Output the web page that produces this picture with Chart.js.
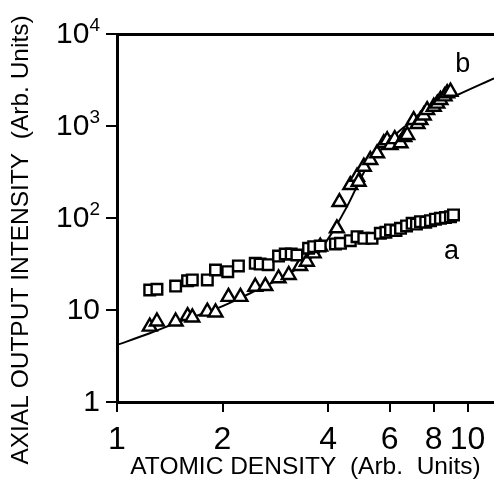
<!DOCTYPE html>
<html>
<head>
<meta charset="utf-8">
<script src="https://cdn.jsdelivr.net/npm/chart.js@4.4.1/dist/chart.umd.min.js"></script>
<style>
  html, body { margin: 0; padding: 0; background: #fff; }
  #wrap { width: 494px; height: 488px; }
</style>
</head>
<body>
<div id="wrap"><canvas id="chart" width="494" height="488"></canvas></div>
<script>
'use strict';

// ── Axis ticks ────────────────────────────────────────────────────────
const xTicks = [1, 2, 4, 6, 8, 10];
const yTicks = [1, 10, 100, 1000, 10000];
const yTickBase = ['1', '10', '10', '10', '10'];
const yTickExp = ['', '', '2', '3', '4'];

// ── Series a (squares) ────────────────────────────────────────────────
const aX = [1.24, 1.30, 1.47, 1.59, 1.64, 1.81, 1.91, 2.07, 2.22, 2.48, 2.56, 2.70,
            2.89, 3.02, 3.14, 3.26, 3.52, 3.64, 3.80, 4.20, 4.34, 4.63, 4.84, 5.06,
            5.34, 5.64, 5.85, 6.03, 6.25, 6.44, 6.70, 6.95, 7.15, 7.34, 7.60, 7.84,
            8.10, 8.37, 8.65, 8.94, 9.12];
const aY = [16.5, 16.8, 18.2, 20.8, 21.2, 21.2, 27.2, 26.1, 30.1, 32.2, 31.6, 31.1,
            38.6, 40.6, 40.6, 39.6, 46.9, 48.8, 49.6, 52.2, 53.1, 56.7, 62.6, 60.1,
            60.1, 68.2, 70, 74.1, 73, 77.3, 82, 87.6, 86, 91.2, 90, 93.5,
            97, 99.3, 101, 103, 108];

// ── Series b (triangles) ──────────────────────────────────────────────
const bX = [1.24, 1.30, 1.47, 1.59, 1.64, 1.81, 1.91, 2.08, 2.25, 2.48, 2.65, 2.89,
            3.09, 3.33, 3.48, 3.64, 3.80, 4.24, 4.31, 4.63, 4.84, 4.89, 5.06, 5.28,
            5.52, 5.77, 5.90, 6.03, 6.20, 6.44, 6.60, 6.73, 7.02, 7.20, 7.34, 7.50,
            7.67, 8.01, 8.20, 8.37, 8.60, 8.75, 8.94];
const bY = [6.6, 7.5, 7.5, 8.6, 8.3, 9.6, 9.4, 13.9, 13.9, 17.9, 18.2, 22.1,
            24.0, 30.1, 33.5, 41.3, 48.8, 77.3, 149, 228, 281, 248, 361, 427,
            505, 649, 700, 621, 720, 649, 760, 798, 1160, 1050, 1160, 1300,
            1490, 1620, 1750, 1920, 2100, 2270, 2360];

// ── Fitted curve through b ────────────────────────────────────────────
const fitX = [1.0, 1.24, 1.55, 1.93, 2.40, 2.99, 3.48, 3.89, 4.15, 4.53, 5.17,
              5.77, 6.44, 7.34, 8.37, 9.35, 11.9];
const fitY = [4.17, 5.58, 7.79, 10.4, 15.2, 23.0, 33.5, 50.9, 74.1, 133, 361,
              596, 906, 1262, 1766, 2173, 3300];

const X_MIN = 1, X_MAX = 11.9;
const FONT = 'Liberation Sans, Arial, Helvetica, sans-serif';
const Y_TITLE = 'AXIAL OUTPUT INTENSITY  (Arb. Units)';

const toPts = (xs, ys) => xs.map((x, i) => ({ x, y: ys[i] }));

// ── Y tick labels with superscript exponents + rotated y title ────────
const yLabels = {
  id: 'yLabels',
  afterDraw(chart) {
    const { ctx, scales: { y } } = chart;
    const right = 100;
    ctx.save();
    ctx.fillStyle = '#000';
    yTicks.forEach((v, i) => {
      const py = y.getPixelForValue(v);
      ctx.font = `19px ${FONT}`;
      const expW = yTickExp[i] ? ctx.measureText(yTickExp[i]).width : 0;
      if (yTickExp[i]) {
        ctx.textAlign = 'right';
        ctx.textBaseline = 'alphabetic';
        ctx.fillText(yTickExp[i], right, py - 3);
      }
      ctx.font = `30px ${FONT}`;
      ctx.textAlign = 'right';
      ctx.textBaseline = 'middle';
      ctx.fillText(yTickBase[i], right - expW, py + 1);
    });
    // rotated axis title
    ctx.translate(21, 240);
    ctx.rotate(-Math.PI / 2);
    ctx.font = `24.5px ${FONT}`;
    ctx.textAlign = 'center';
    ctx.textBaseline = 'middle';
    ctx.fillText(Y_TITLE, 0, 0);
    ctx.restore();
  },
};

// ── Series letters drawn next to the data ─────────────────────────────
const seriesLetters = {
  id: 'seriesLetters',
  afterDatasetsDraw(chart) {
    const { ctx, scales: { x, y } } = chart;
    ctx.save();
    ctx.fillStyle = '#000';
    ctx.font = `27px ${FONT}`;
    ctx.textAlign = 'center';
    ctx.textBaseline = 'alphabetic';
    ctx.fillText('a', x.getPixelForValue(9.0), y.getPixelForValue(36));
    ctx.fillText('b', x.getPixelForValue(9.7), y.getPixelForValue(3900));
    ctx.restore();
  },
};

Chart.defaults.font.family = FONT;
Chart.defaults.color = '#000';

const noSidePad = s => { s.paddingLeft = 0; s.paddingRight = 0; };

new Chart(document.getElementById('chart'), {
  type: 'scatter',
  data: {
    datasets: [
      {
        label: 'a',
        data: toPts(aX, aY),
        pointStyle: 'rect',
        pointRadius: 7.5,
        pointBorderWidth: 2.4,
        borderColor: '#000',
        backgroundColor: '#fff',
      },
      {
        label: 'b',
        data: toPts(bX, bY),
        pointStyle: 'triangle',
        pointRadius: 8,
        pointBorderWidth: 2.4,
        borderColor: '#000',
        backgroundColor: '#fff',
      },
      {
        label: 'fit',
        type: 'line',
        data: toPts(fitX, fitY),
        showLine: true,
        pointRadius: 0,
        borderColor: '#000',
        borderWidth: 2,
        cubicInterpolationMode: 'monotone',
        fill: false,
      },
    ],
  },
  options: {
    responsive: false,
    devicePixelRatio: 1,
    animation: false,
    layout: { padding: 0, autoPadding: false },
    plugins: { legend: { display: false }, tooltip: { enabled: false } },
    scales: {
      x: {
        type: 'logarithmic',
        position: 'bottom',
        min: X_MIN,
        max: X_MAX,
        afterBuildTicks: s => { s.ticks = xTicks.map(v => ({ value: v })); },
        afterFit: s => { s.height = 86; noSidePad(s); },
        ticks: {
          autoSkip: false,
          maxRotation: 0,
          padding: 9,
          font: { size: 32 },
          color: '#000',
          callback: v => String(v),
        },
        grid: { drawOnChartArea: false, drawTicks: true, tickLength: 10, color: '#000', lineWidth: 2 },
        border: { color: '#000', width: 3 },
        title: {
          display: true,
          text: 'ATOMIC DENSITY  (Arb.  Units)',
          font: { size: 24.5 },
          color: '#000',
          padding: { top: 0, bottom: 6 },
        },
      },
      xTop: {
        type: 'logarithmic',
        position: 'top',
        min: X_MIN,
        max: X_MAX,
        afterFit: s => { s.height = 34; noSidePad(s); },
        ticks: { display: false },
        grid: { drawOnChartArea: false, drawTicks: false },
        border: { color: '#000', width: 3 },
      },
      y: {
        type: 'logarithmic',
        position: 'left',
        min: 1,
        max: 10000,
        afterBuildTicks: s => { s.ticks = yTicks.map(v => ({ value: v })); },
        afterFit: s => { s.width = 117; s.paddingTop = 0; s.paddingBottom = 0; },
        ticks: { display: false },
        grid: { drawOnChartArea: false, drawTicks: true, tickLength: 11, color: '#000', lineWidth: 2 },
        border: { color: '#000', width: 3 },
      },
    },
  },
  plugins: [seriesLetters, yLabels],
});
</script>
</body>
</html>
